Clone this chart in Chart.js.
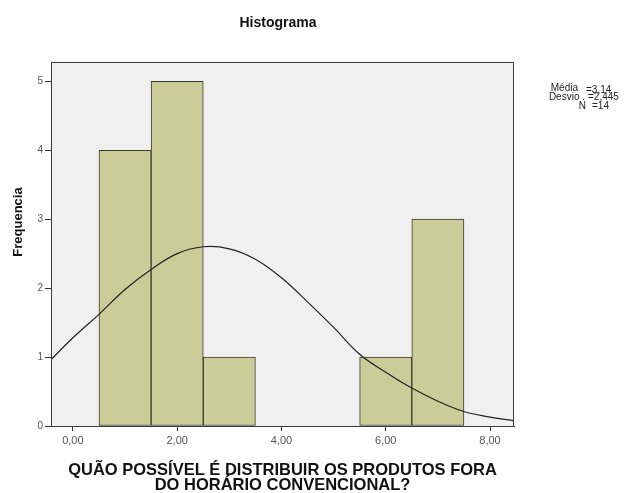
<!DOCTYPE html>
<html>
<head>
<meta charset="utf-8">
<script src="https://cdn.jsdelivr.net/npm/chart.js@4.4.1/dist/chart.umd.min.js"></script>
<style>
  html, body { margin: 0; padding: 0; background: #fff; }
  #wrap { width: 639px; height: 493px; }
</style>
</head>
<body>
<div id="wrap"><canvas id="histChart" width="639" height="493"></canvas></div>
<script>
// --- Data ---
const binCenters = [1, 2, 3, 6, 7];
const binCounts = [4, 5, 1, 1, 3];

// normal curve, sampled by eye from the reference every 0.5
const curveX = [-0.5, 0, 0.5, 1, 1.5, 2, 2.5, 3, 3.5, 4, 4.5, 5, 5.5, 6, 6.5, 7, 7.5, 8, 8.5];
const curveY = [0.90, 1.28, 1.62, 1.98, 2.27, 2.50, 2.60, 2.57, 2.42, 2.15, 1.80, 1.43, 1.04, 0.78, 0.55, 0.36, 0.21, 0.13, 0.07];

const xTickValues = [0, 2, 4, 6, 8];
const yTickValues = [0, 1, 2, 3, 4, 5];

const statLabels = ['Média', 'Desvio .', 'N'];
const statValues = ['=3,14', '=2,445', '=14'];

const chartTitle = 'Histograma';
const yTitle = 'Frequencia';
const xTitle = ['QUÃO POSSÍVEL É DISTRIBUIR OS PRODUTOS FORA', 'DO HORÁRIO CONVENCIONAL?'];

const FONT = "'Liberation Sans', Arial, sans-serif";

// --- Plugin: SPSS style frame, title and stats box ---
const spssFrame = {
    id: 'spssFrame',
    beforeDraw(chart) {
        const { ctx, chartArea: a } = chart;
        ctx.save();
        ctx.fillStyle = '#ffffff';
        ctx.fillRect(0, 0, chart.width, chart.height);
        ctx.fillStyle = '#f0f0f0';
        ctx.fillRect(a.left, a.top, a.right - a.left, a.bottom - a.top);
        ctx.restore();
    },
    afterDraw(chart) {
        const { ctx, chartArea: a } = chart;
        ctx.save();
        ctx.strokeStyle = '#3c3c3c';
        ctx.lineWidth = 1;
        ctx.strokeRect(a.left + 0.5, a.top + 0.5, a.right - a.left - 1, a.bottom - a.top);

        ctx.fillStyle = '#111';
        ctx.textAlign = 'center';
        ctx.textBaseline = 'middle';
        ctx.font = 'bold 14px ' + FONT;
        ctx.fillText(chartTitle, 278, 23);

        ctx.save();
        ctx.translate(18, 222);
        ctx.rotate(-Math.PI / 2);
        ctx.font = 'bold 13px ' + FONT;
        ctx.fillText(yTitle, 0, 0);
        ctx.restore();

        // stats box: label right-aligned, value left-aligned
        ctx.font = '10px ' + FONT;
        ctx.fillStyle = '#222';
        const labRight = [578, 585, 586];
        const valLeft = [586, 588, 592];
        statLabels.forEach((lab, i) => {
            const y = 88 + i * 9;
            ctx.textAlign = 'right';
            ctx.fillText(lab, labRight[i], y);
            ctx.textAlign = 'left';
            ctx.fillText(statValues[i], valLeft[i], y + (i === 0 ? 2 : 0));
        });
        ctx.restore();
    }
};

new Chart(document.getElementById('histChart'), {
    type: 'bar',
    data: {
        datasets: [
            {
                type: 'line',
                data: curveX.map((x, i) => ({ x: x, y: curveY[i] })),
                borderColor: '#222',
                borderWidth: 1.2,
                pointRadius: 0,
                tension: 0.4,
                fill: false,
                order: 0
            },
            {
                type: 'bar',
                data: binCenters.map((x, i) => ({ x: x, y: binCounts[i] })),
                backgroundColor: '#cccc99',
                borderColor: '#3a3a2c',
                borderWidth: 1,
                borderSkipped: false,
                barPercentage: 1,
                categoryPercentage: 1,
                order: 1
            }
        ]
    },
    options: {
        responsive: false,
        animation: false,
        layout: { padding: { top: 62, right: 125, bottom: 0, left: 0 } },
        plugins: {
            legend: { display: false },
            tooltip: { enabled: false }
        },
        scales: {
            x: {
                type: 'linear',
                min: -0.42,
                max: 8.46,
                offset: false,
                afterBuildTicks: (scale) => { scale.ticks = xTickValues.map(v => ({ value: v })); },
                afterFit: (scale) => { scale.height = 67; },
                grid: { drawOnChartArea: false, offset: false, tickLength: 5, color: '#333' },
                border: { color: '#333' },
                ticks: {
                    padding: 3,
                    color: '#555',
                    font: { family: FONT, size: 11 },
                    callback: (v) => v.toFixed(2).replace('.', ',')
                },
                title: {
                    display: true,
                    text: xTitle,
                    color: '#111',
                    padding: 0,
                    font: { family: FONT, size: 16.5, weight: 'bold', lineHeight: '15px' }
                }
            },
            y: {
                min: 0,
                max: 5.28,
                afterBuildTicks: (scale) => { scale.ticks = yTickValues.map(v => ({ value: v })); },
                afterFit: (scale) => { scale.width = 51; },
                grid: { drawOnChartArea: false, tickLength: 6, color: '#333' },
                border: { color: '#333' },
                ticks: {
                    padding: 2,
                    color: '#555',
                    font: { family: FONT, size: 10 }
                }
            }
        }
    },
    plugins: [spssFrame]
});
</script>
</body>
</html>
